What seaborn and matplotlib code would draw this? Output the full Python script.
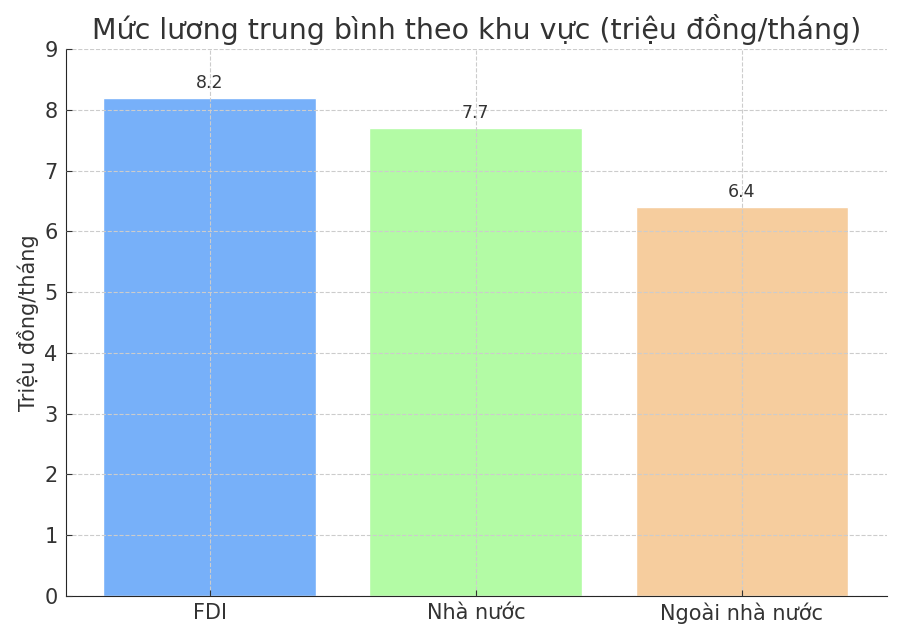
import matplotlib
matplotlib.use("Agg")
import pandas as pd
import matplotlib.pyplot as plt
import seaborn as sns

# Data
khu_vuc = ['FDI', 'Nhà nước', 'Ngoài nhà nước']
luong = [8.2, 7.7, 6.4]
mau = ['#77b0f9', '#b3fba5', '#f6cd9e']

df = pd.DataFrame({'Khu vực': khu_vuc, 'Lương': luong})

sns.set_style("ticks")
plt.rcParams['font.family'] = ['DejaVu Sans']
text_color = '#333333'
plt.rcParams['text.color'] = text_color
plt.rcParams['axes.labelcolor'] = text_color
plt.rcParams['xtick.color'] = text_color
plt.rcParams['ytick.color'] = text_color

fig, ax = plt.subplots(figsize=(9, 6.31), dpi=100)
sns.barplot(data=df, x='Khu vực', y='Lương', hue='Khu vực', palette=mau,
            width=0.8, saturation=1, legend=False, ax=ax)

# Value labels
for i, v in enumerate(luong):
    ax.text(i, v + 0.1, f'{v}', ha='center', va='bottom', fontsize=12.5, color=text_color)

ax.set_ylim(0, 9)
ax.set_xlim(-0.54, 2.545)
ax.set_title('Mức lương trung bình theo khu vực (triệu đồng/tháng)', fontsize=20.5,
             color=text_color, pad=7)
ax.set_ylabel('Triệu đồng/tháng', fontsize=15)
ax.set_xlabel('')
ax.tick_params(axis='both', labelsize=15, direction='in', length=4)
ax.tick_params(axis='y', pad=6)
ax.tick_params(axis='x', pad=5)
ax.grid(True, linestyle='--', color='#cccccc', linewidth=0.8)
ax.set_axisbelow(False)
sns.despine(ax=ax)

fig.subplots_adjust(left=0.0733, right=0.9856, top=0.9223, bottom=0.0555)
plt.savefig('out.png', dpi=100)
